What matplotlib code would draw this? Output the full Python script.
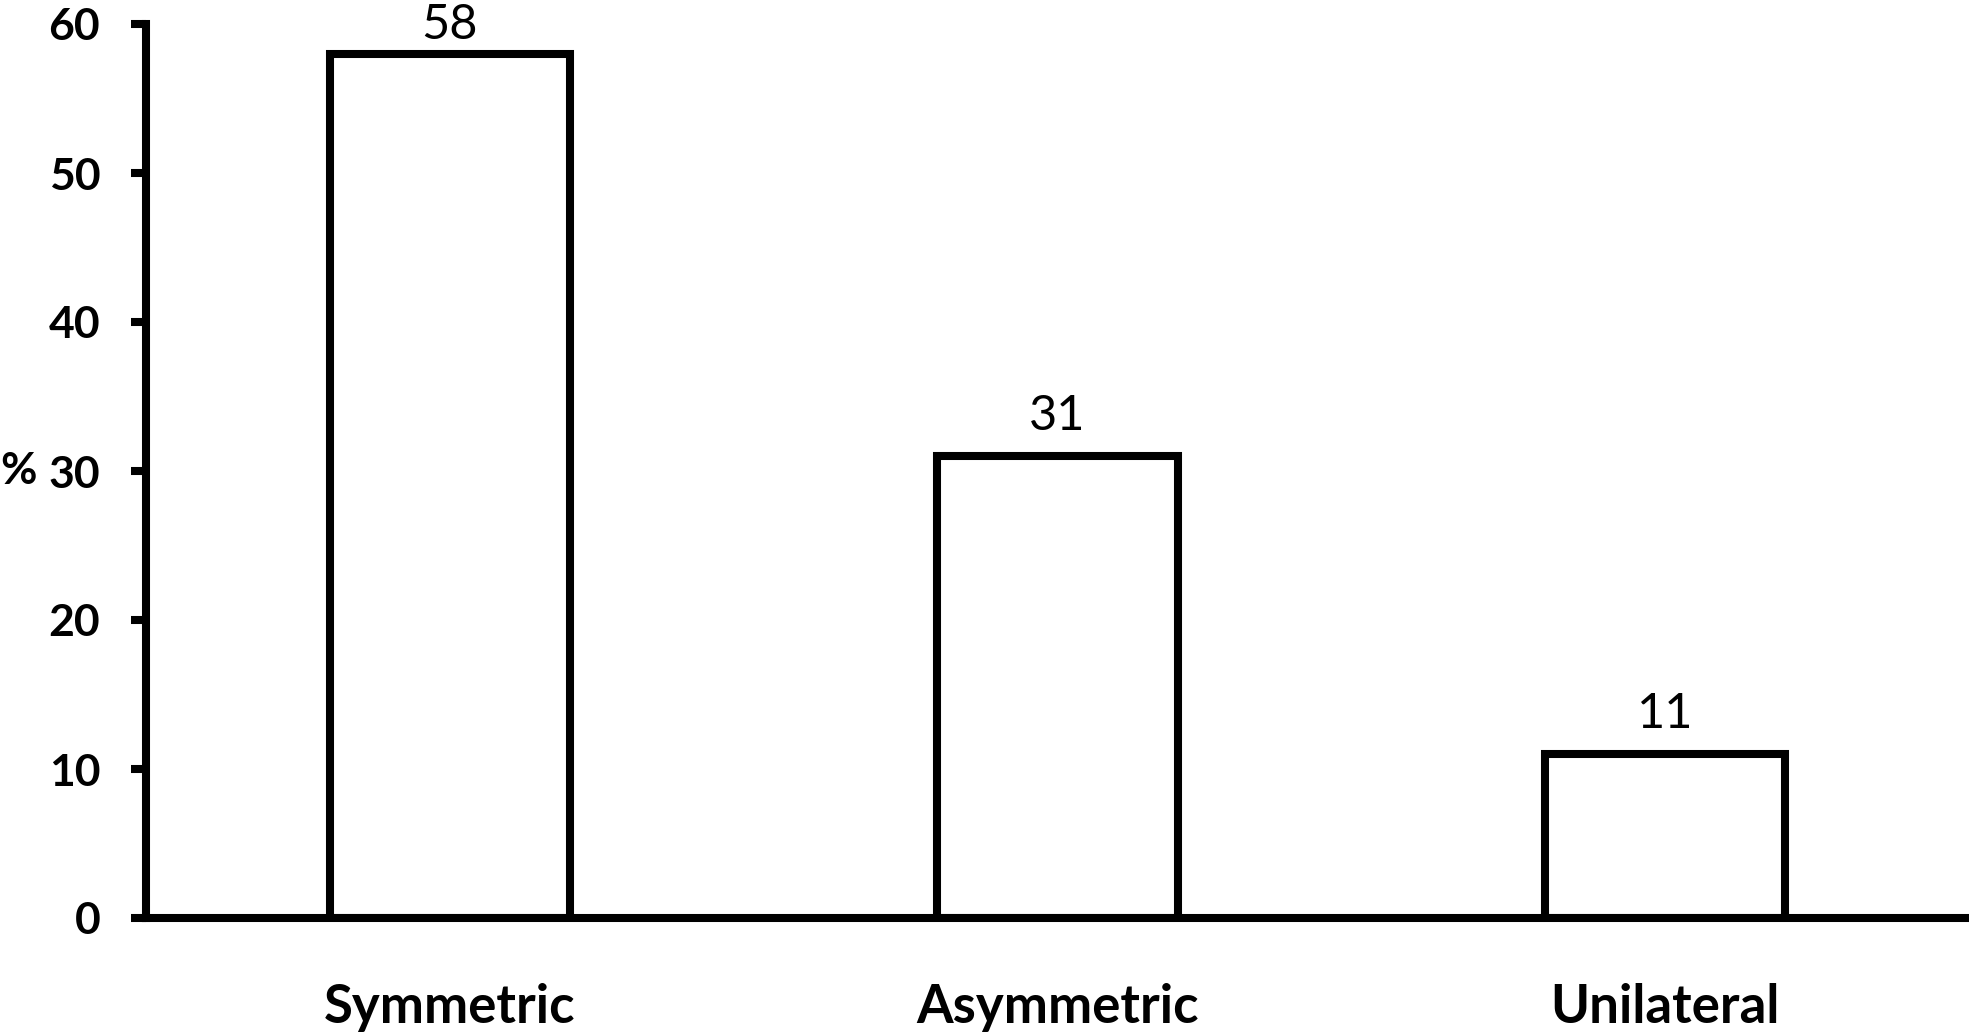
import matplotlib
matplotlib.use("Agg")
import matplotlib.pyplot as plt

categories = ["Symmetric", "Asymmetric", "Unilateral"]
values = [58, 31, 11]
yticks = [0, 10, 20, 30, 40, 50, 60]

plt.rcParams['font.family'] = ['Lato', 'DejaVu Sans']

W, H = 1969, 1033
fig = plt.figure(figsize=(W / 100, H / 100), dpi=100)
ax = fig.add_axes([146 / W, 1 - 918 / H, 1 - 146 / W, (918 - 24) / H])

LW = 5.8
x = list(range(len(categories)))
bars = ax.bar(x, values, width=0.395, color="white", edgecolor="black",
              linewidth=LW, zorder=2)
ymax = 60
for rect, v in zip(bars, values):
    pad = 5 if v > 0.9 * ymax else 13
    ax.annotate(str(v), (rect.get_x() + rect.get_width() / 2, rect.get_height()),
                xytext=(0, pad), textcoords="offset points",
                ha="center", va="bottom", fontsize=35, color="black",
                annotation_clip=False)

ax.set_xlim(-0.5, 2.5)
ax.set_ylim(0, ymax)
ax.set_yticks(yticks)
ax.set_yticklabels([str(t) for t in yticks], fontsize=32, fontweight="bold")
ax.set_xticks(x)
ax.set_xticklabels(categories, fontsize=38, fontweight="bold")

for s in ["top", "right"]:
    ax.spines[s].set_visible(False)
for s in ["left", "bottom"]:
    ax.spines[s].set_linewidth(LW)
    ax.spines[s].set_color("black")
    ax.spines[s].set_zorder(3)

ax.tick_params(axis="y", direction="out", length=11, width=LW, pad=22)
ax.tick_params(axis="x", length=0, pad=47)

ax.set_ylabel("%", rotation=0, fontsize=32, fontweight="bold")
ax.yaxis.label.set_ha("left")
ax.yaxis.label.set_va("center")
ax.yaxis.set_label_coords(-146 / (W - 146), 0.5)

fig.savefig("out.png", dpi=100)
